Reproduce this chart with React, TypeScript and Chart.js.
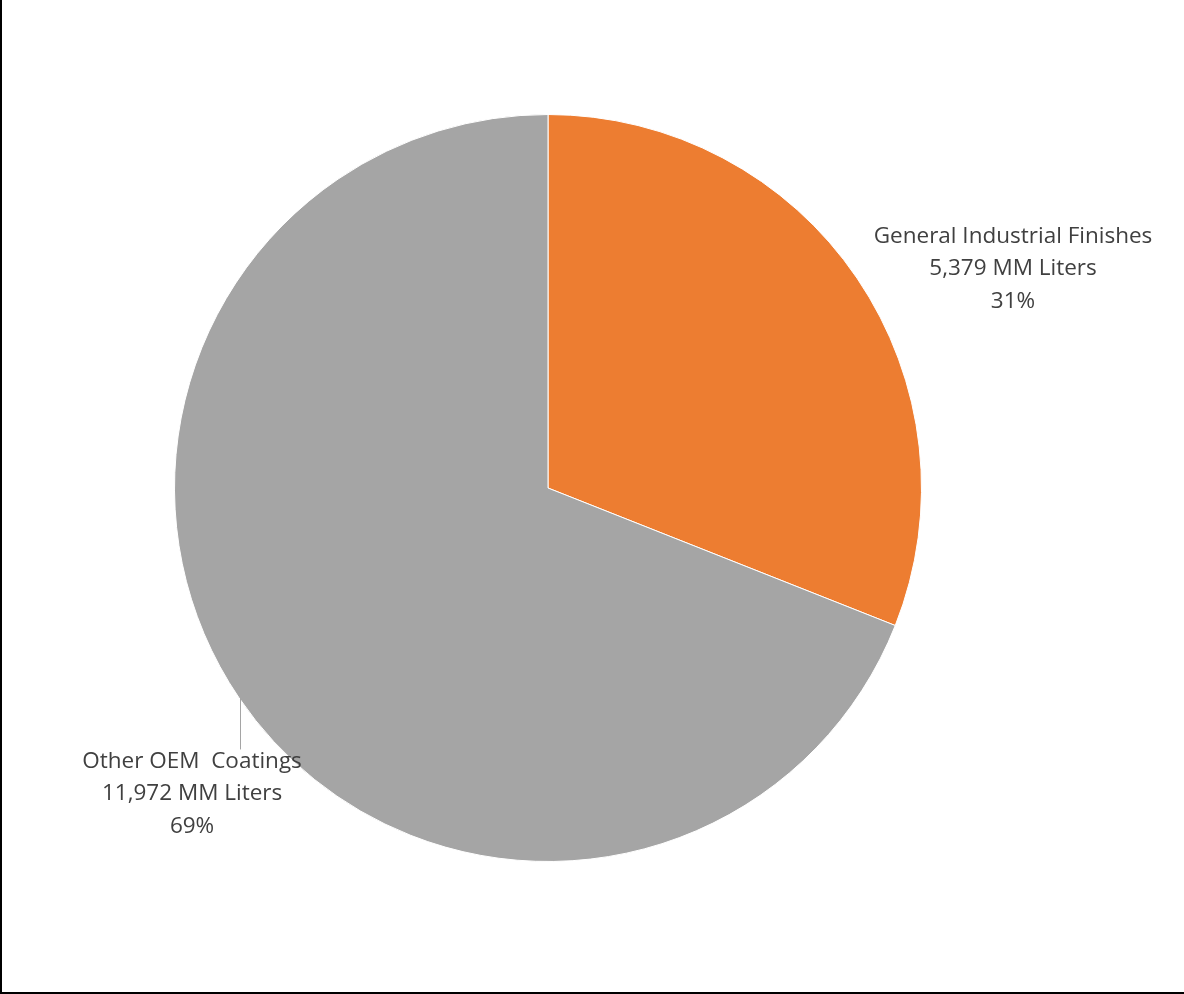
import React, { useEffect, useRef } from "react";
import { Chart, registerables } from "chart.js";

Chart.register(...registerables);

const categories = ["General Industrial Finishes", "Other OEM  Coatings"];
const volumes = [5379, 11972];
const volumeLabels = ["5,379 MM Liters", "11,972 MM Liters"];
const percentLabels = ["31%", "69%"];
const colors = ["#ED7D31", "#A5A5A5"];

const FONT = "'Open Sans'";

const labelPlugin = {
  id: "sliceLabels",
  afterDatasetsDraw(chart: any) {
    const meta = chart.getDatasetMeta(0);
    const arc0 = meta.data[0];
    if (!arc0) return;
    const cx = arc0.x;
    const cy = arc0.y;
    const r = arc0.outerRadius;
    const ctx = chart.ctx;
    ctx.save();
    ctx.font = `22.5px ${FONT}`;
    ctx.fillStyle = "#404040";
    ctx.textAlign = "center";
    ctx.textBaseline = "middle";
    const lh = 32.5;
    // label positions relative to pie geometry
    const pos = [
      { x: cx + r * 1.245, y: cy - r * 0.587 },
      { x: cx - r * 0.953, y: cy + r * 0.819 },
    ];
    categories.forEach((c, i) => {
      const lines = [c, volumeLabels[i], percentLabels[i]];
      lines.forEach((t, j) => {
        ctx.fillText(t, pos[i].x, pos[i].y + (j - 1) * lh);
      });
    });
    // leader line for second label
    ctx.strokeStyle = "#A5A5A5";
    ctx.lineWidth = 1;
    ctx.beginPath();
    const lx = Math.round(cx - r * 0.825) + 0.5;
    ctx.moveTo(lx, cy + r * 0.562);
    ctx.lineTo(lx, cy + r * 0.70);
    ctx.stroke();
    ctx.restore();
  },
};

export default function App() {
  const ref = useRef<HTMLCanvasElement>(null);
  useEffect(() => {
    if (!ref.current) return;
    const chart = new Chart(ref.current, {
      type: "pie",
      data: {
        labels: categories,
        datasets: [
          {
            data: volumes,
            backgroundColor: colors,
            borderColor: "#ffffff",
            borderWidth: 1,
          },
        ],
      },
      options: {
        animation: false,
        responsive: false,
        maintainAspectRatio: false,
        layout: { padding: { left: 172, top: 114, right: 262, bottom: 130 } },
        plugins: {
          legend: { display: false },
          tooltip: { enabled: false },
          title: { display: false },
        },
      },
      plugins: [labelPlugin],
    });
    return () => chart.destroy();
  }, []);
  return (
    <div
      style={{
        position: "fixed",
        left: 0,
        top: 0,
        width: 1184,
        height: 994,
        background: "#ffffff",
        boxSizing: "border-box",
        borderLeft: "2px solid #000",
        borderBottom: "2px solid #000",
      }}
    >
      <canvas
        ref={ref}
        width={1182}
        height={992}
        style={{ display: "block", width: 1182, height: 992 }}
      />
    </div>
  );
}
